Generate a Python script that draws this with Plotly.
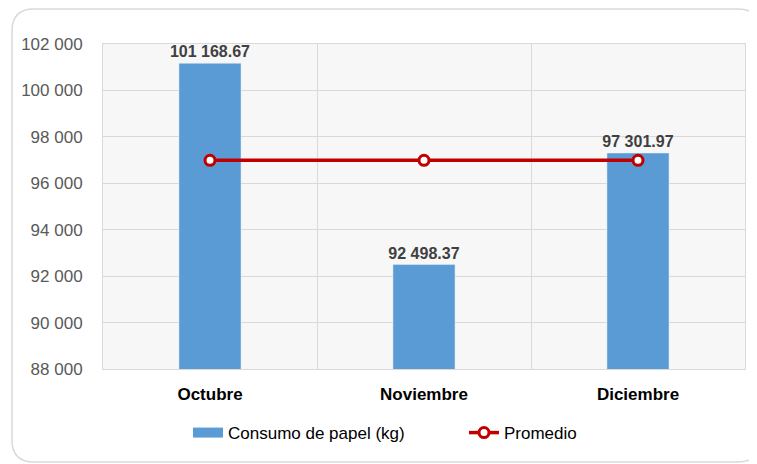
import plotly.graph_objects as go

meses = ['Octubre', 'Noviembre', 'Diciembre']
consumo = [101168.67, 92498.37, 97301.97]
promedio = [96989.67, 96989.67, 96989.67]

# the page puts the figure 8px in from the top-left corner
W, H = 749, 456
ml, mr, mt, mb = 95, 12, 36, 95
pw, ph = W - ml - mr, H - mt - mb


def px_x(v):
    return (v - ml) / pw


def px_y(v):
    return 1 - (v - mt) / ph


def rounded_box(x0, y0, x1, y1, r):
    # path in paper coords from pixel corners
    X0, X1 = px_x(x0), px_x(x1)
    Y0, Y1 = px_y(y0), px_y(y1)
    rx, ry = r / pw, r / ph
    return (f'M {X0 + rx},{Y0} L {X1 - rx},{Y0} Q {X1},{Y0} {X1},{Y0 - ry} '
            f'L {X1},{Y1 + ry} Q {X1},{Y1} {X1 - rx},{Y1} '
            f'L {X0 + rx},{Y1} Q {X0},{Y1} {X0},{Y1 + ry} '
            f'L {X0},{Y0 - ry} Q {X0},{Y0} {X0 + rx},{Y0} Z')


fig = go.Figure()
fig.add_trace(go.Bar(
    x=meses, y=consumo, name='Consumo de papel (kg)', showlegend=False,
    marker=dict(color='#5B9BD5'), width=0.29,
    text=consumo, texttemplate='%{y:,.2f}', textposition='outside',
    constraintext='none',
    textfont=dict(family='Liberation Sans', size=16, color='#404040', weight='bold'),
    cliponaxis=False,
))
# legend entry drawn as a wide swatch
fig.add_trace(go.Scatter(
    x=[None], y=[None], name='Consumo de papel (kg)', mode='lines',
    line=dict(color='#5B9BD5', width=10), legend='legend',
))
fig.add_trace(go.Scatter(
    x=meses, y=promedio, name='Promedio', mode='lines+markers',
    line=dict(color='#C00000', width=3.5),
    marker=dict(size=10, color='white', line=dict(color='#C00000', width=3)),
    legend='legend2',
))

fig.add_shape(type='path', xref='paper', yref='paper',
              path=rounded_box(4, 1, 752, 454, 22),
              line=dict(color='#D9D9D9', width=1.5), layer='below')

leg = dict(orientation='h', xanchor='left', y=-0.197, yanchor='middle',
           font=dict(size=17, color='#000000'), itemwidth=30)

fig.update_layout(
    width=W, height=H,
    margin=dict(l=ml, r=mr, t=mt, b=mb, autoexpand=False),
    paper_bgcolor='white', plot_bgcolor='#F7F7F7',
    separators='. ',
    font=dict(family='Liberation Sans', size=17, color='#595959'),
    bargap=0.71,
    showlegend=True,
    legend=dict(leg, x=px_x(180)),
    legend2=dict(leg, x=px_x(456)),
)
fig.update_xaxes(
    type='category', tickson='boundaries', showgrid=True, gridcolor='#D9D9D9',
    showline=True, linecolor='#D9D9D9', mirror=True, ticks='',
    tickfont=dict(size=17, color='#000000', weight='bold'), ticklabelstandoff=10,
)
fig.update_yaxes(
    range=[88000, 102000], dtick=2000, tickformat=',d',
    showgrid=True, gridcolor='#D9D9D9', zeroline=False,
    showline=True, linecolor='#D9D9D9', mirror=True, ticks='',
    tickfont=dict(size=17, color='#595959'), ticklabelstandoff=16,
)

fig.write_html('out.html')
